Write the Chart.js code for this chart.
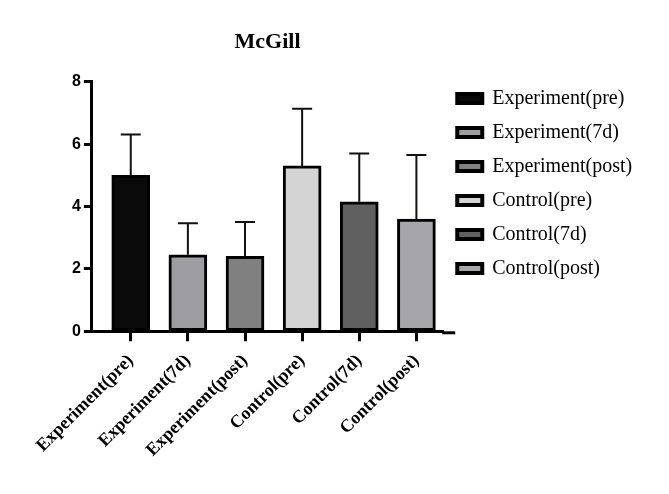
<!DOCTYPE html>
<html>
<head>
<meta charset="utf-8">
<script src="https://cdn.jsdelivr.net/npm/chart.js@4.4.1/dist/chart.umd.min.js"></script>
<style>
    html, body { margin: 0; padding: 0; background: #fff; }
    canvas { display: block; }
</style>
</head>
<body>
<canvas id="chart" width="669" height="494"></canvas>
<script>
// values (mean + upper SD bar)
const categories = ["Experiment(pre)", "Experiment(7d)", "Experiment(post)", "Control(pre)", "Control(7d)", "Control(post)"];
const means = [5.0, 2.45, 2.4, 5.3, 4.15, 3.6];
const sds = [1.31, 1.01, 1.1, 1.83, 1.55, 2.05];
const barColors = ["#0a0a0a", "#9e9ea2", "#808080", "#d4d4d4", "#606060", "#a6a6aa"];
const yTicks = [0, 2, 4, 6, 8];

const SERIF = "'Times New Roman', 'Liberation Serif', serif";
const SANS = "Arial, 'Liberation Sans', sans-serif";

// upper error bars, positioned through the scales
const errorBars = {
    id: "errorBars",
    afterDatasetsDraw(chart) {
        const { ctx, scales } = chart;
        const meta = chart.getDatasetMeta(0);
        ctx.save();
        ctx.strokeStyle = "#111";
        ctx.lineWidth = 2;
        meta.data.forEach((bar, i) => {
            const top = scales.y.getPixelForValue(means[i] + sds[i]);
            ctx.beginPath();
            ctx.moveTo(bar.x, bar.y);
            ctx.lineTo(bar.x, top);
            ctx.moveTo(bar.x - 10, top);
            ctx.lineTo(bar.x + 10, top);
            ctx.stroke();
        });
        ctx.restore();
    },
};

// x axis line runs a bit past the plot; legend text may spill past its
// layout box (the layout caps a side legend at a quarter of the width)
const axisTail = {
    id: "axisTail",
    beforeDraw(chart) {
        chart.legend.right = chart.width;
    },
    afterDraw(chart) {
        const { ctx, chartArea } = chart;
        ctx.save();
        ctx.strokeStyle = "#000";
        ctx.lineWidth = 3;
        ctx.beginPath();
        ctx.moveTo(chartArea.right - 1, chartArea.bottom + 1.5);
        ctx.lineTo(chartArea.right + 12, chartArea.bottom + 1.5);
        ctx.stroke();
        ctx.restore();
    },
};

new Chart(document.getElementById("chart"), {
    type: "bar",
    data: {
        datasets: [{
            data: means.map((v, i) => ({ x: i, y: v })),
            backgroundColor: barColors,
            borderColor: "#000",
            borderWidth: 3,
            borderSkipped: false,
            barThickness: 38,
        }],
    },
    options: {
        responsive: false,
        devicePixelRatio: 1,
        animation: false,
        layout: { padding: { left: 69, right: 101, top: 0, bottom: 24 } },
        plugins: {
            title: {
                display: true,
                text: "McGill",
                fullSize: false,
                color: "#000",
                font: { family: SERIF, size: 22, weight: "bold" },
                padding: { top: 29.5, bottom: 25.8 },
            },
            legend: {
                position: "right",
                align: "start",
                title: { display: true, text: "", padding: { top: 60, bottom: 0 } },
                labels: {
                    boxWidth: 25,
                    boxHeight: 9,
                    padding: 14,
                    color: "#000",
                    font: { family: SERIF, size: 20 },
                    generateLabels: () => categories.map((t, i) => ({
                        text: t,
                        fillStyle: barColors[i],
                        strokeStyle: "#000",
                        fontColor: "#000",
                        lineWidth: 4,
                        hidden: false,
                        index: i,
                        datasetIndex: 0,
                    })),
                },
                onClick: () => {},
            },
            tooltip: { enabled: false },
        },
        scales: {
            x: {
                type: "linear",
                offset: false,
                min: -0.68,
                max: 5.47,
                afterBuildTicks: (scale) => {
                    scale.ticks = categories.map((_, i) => ({ value: i }));
                },
                border: { display: true, color: "#000", width: 3 },
                grid: {
                    offset: false,
                    drawOnChartArea: false,
                    drawTicks: true,
                    tickLength: 10,
                    tickWidth: 3,
                    tickColor: "#000",
                },
                ticks: {
                    autoSkip: false,
                    minRotation: 45,
                    maxRotation: 45,
                    padding: 9,
                    color: "#000",
                    font: { family: SERIF, size: 18, weight: "bold" },
                    callback: (v) => categories[v],
                },
            },
            y: {
                min: 0,
                max: 8,
                afterBuildTicks: (scale) => {
                    scale.ticks = yTicks.map((v) => ({ value: v }));
                },
                border: { display: true, color: "#000", width: 3 },
                grid: {
                    drawOnChartArea: false,
                    drawTicks: true,
                    tickLength: 8,
                    tickWidth: 3,
                    tickColor: "#000",
                },
                ticks: {
                    padding: 3,
                    color: "#000",
                    font: { family: SANS, size: 16, weight: "bold" },
                },
            },
        },
    },
    plugins: [errorBars, axisTail],
});
</script>
</body>
</html>
